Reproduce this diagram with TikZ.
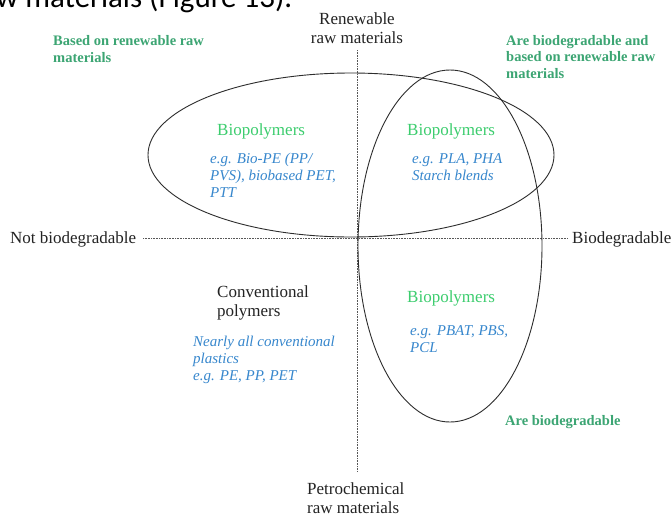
\documentclass[tikz,border=0pt]{standalone}
\usepackage{fontspec}
\setmainfont{Liberation Serif}
\newfontfamily\calib{Carlito}
\definecolor{labelgreen}{RGB}{60,165,115}
\definecolor{biogreen}{RGB}{60,205,110}
\definecolor{egblue}{RGB}{55,135,205}
\definecolor{stroke}{RGB}{45,45,45}
\definecolor{axistext}{RGB}{35,35,35}
\tikzset{
  txt/.style={inner sep=0pt, anchor=base west, align=left},
  axislbl/.style={txt, text=axistext, font=\fontsize{17}{18.5}\selectfont},
  greenlbl/.style={txt, text=labelgreen, font=\bfseries\fontsize{14.5}{16.5}\selectfont},
  biolbl/.style={txt, text=biogreen, font=\fontsize{17}{19}\selectfont},
  eglbl/.style={txt, text=egblue, font=\itshape\fontsize{15}{16.8}\selectfont},
  axisline/.style={draw=stroke!80, line width=0.8pt, dash pattern=on 0.8pt off 0.8pt},
  ell/.style={draw=stroke, line width=0.9pt}
}
\begin{document}
\begin{tikzpicture}[x=1pt,y=-1pt]
\useasboundingbox[fill=white] (0,0) rectangle (672,515);
% cut-off caption text at the very top
\node[txt, font=\calib\fontsize{31}{33}\selectfont, text=black] (cap) at (-4,7) {w materials (Figure 13).};
% axes
\coordinate (vtop) at (357,50);
\coordinate (vbot) at (357,472);
\coordinate (hleft) at (143,238);
\coordinate (hright) at (568,238);
\draw[axisline] (vtop) -- (vbot);
\draw[axisline] (hleft) -- (hright);
% ellipses
\draw[ell] (351,155) ellipse [x radius=203pt, y radius=82pt];
\draw[ell] (450,246) ellipse [x radius=92pt, y radius=176pt];
% axis labels (base anchor = last line's baseline)
\node[axislbl, anchor=base] (ren) at (357,24) {Renewable};
\node[axislbl, anchor=base] (ren2) at (357,43) {raw materials};
\node[axislbl] (notbio) at (10,243) {Not biodegradable};
\node[axislbl] (bio) at (572,243) {Biodegradable};
\node[axislbl] (petro) at (307,513) {Petrochemical\\raw materials};
% green category labels
\node[greenlbl] (basedren) at (53,62) {Based on renewable raw\\materials};
\node[greenlbl] (arebioren) at (506,78) {Are biodegradable and\\based on renewable raw\\materials};
\node[greenlbl] (arebio) at (505,425) {Are biodegradable};
% quadrant contents
\node[biolbl] (bp1) at (217,135) {Biopolymers};
\node[eglbl] (eg1) at (210,197) {e.g. Bio-PE (PP/\\PVS), biobased PET,\\PTT};
\node[biolbl] (bp2) at (407,135) {Biopolymers};
\node[eglbl] (eg2) at (412,180) {e.g. PLA, PHA\\Starch blends};
\node[axislbl] (conv) at (217,316) {Conventional\\polymers};
\node[eglbl] (eg3) at (193,380) {Nearly all conventional\\plastics\\e.g. PE, PP, PET};
\node[biolbl] (bp3) at (407,302) {Biopolymers};
\node[eglbl] (eg4) at (410,352) {e.g. PBAT, PBS,\\PCL};
\end{tikzpicture}
\end{document}
